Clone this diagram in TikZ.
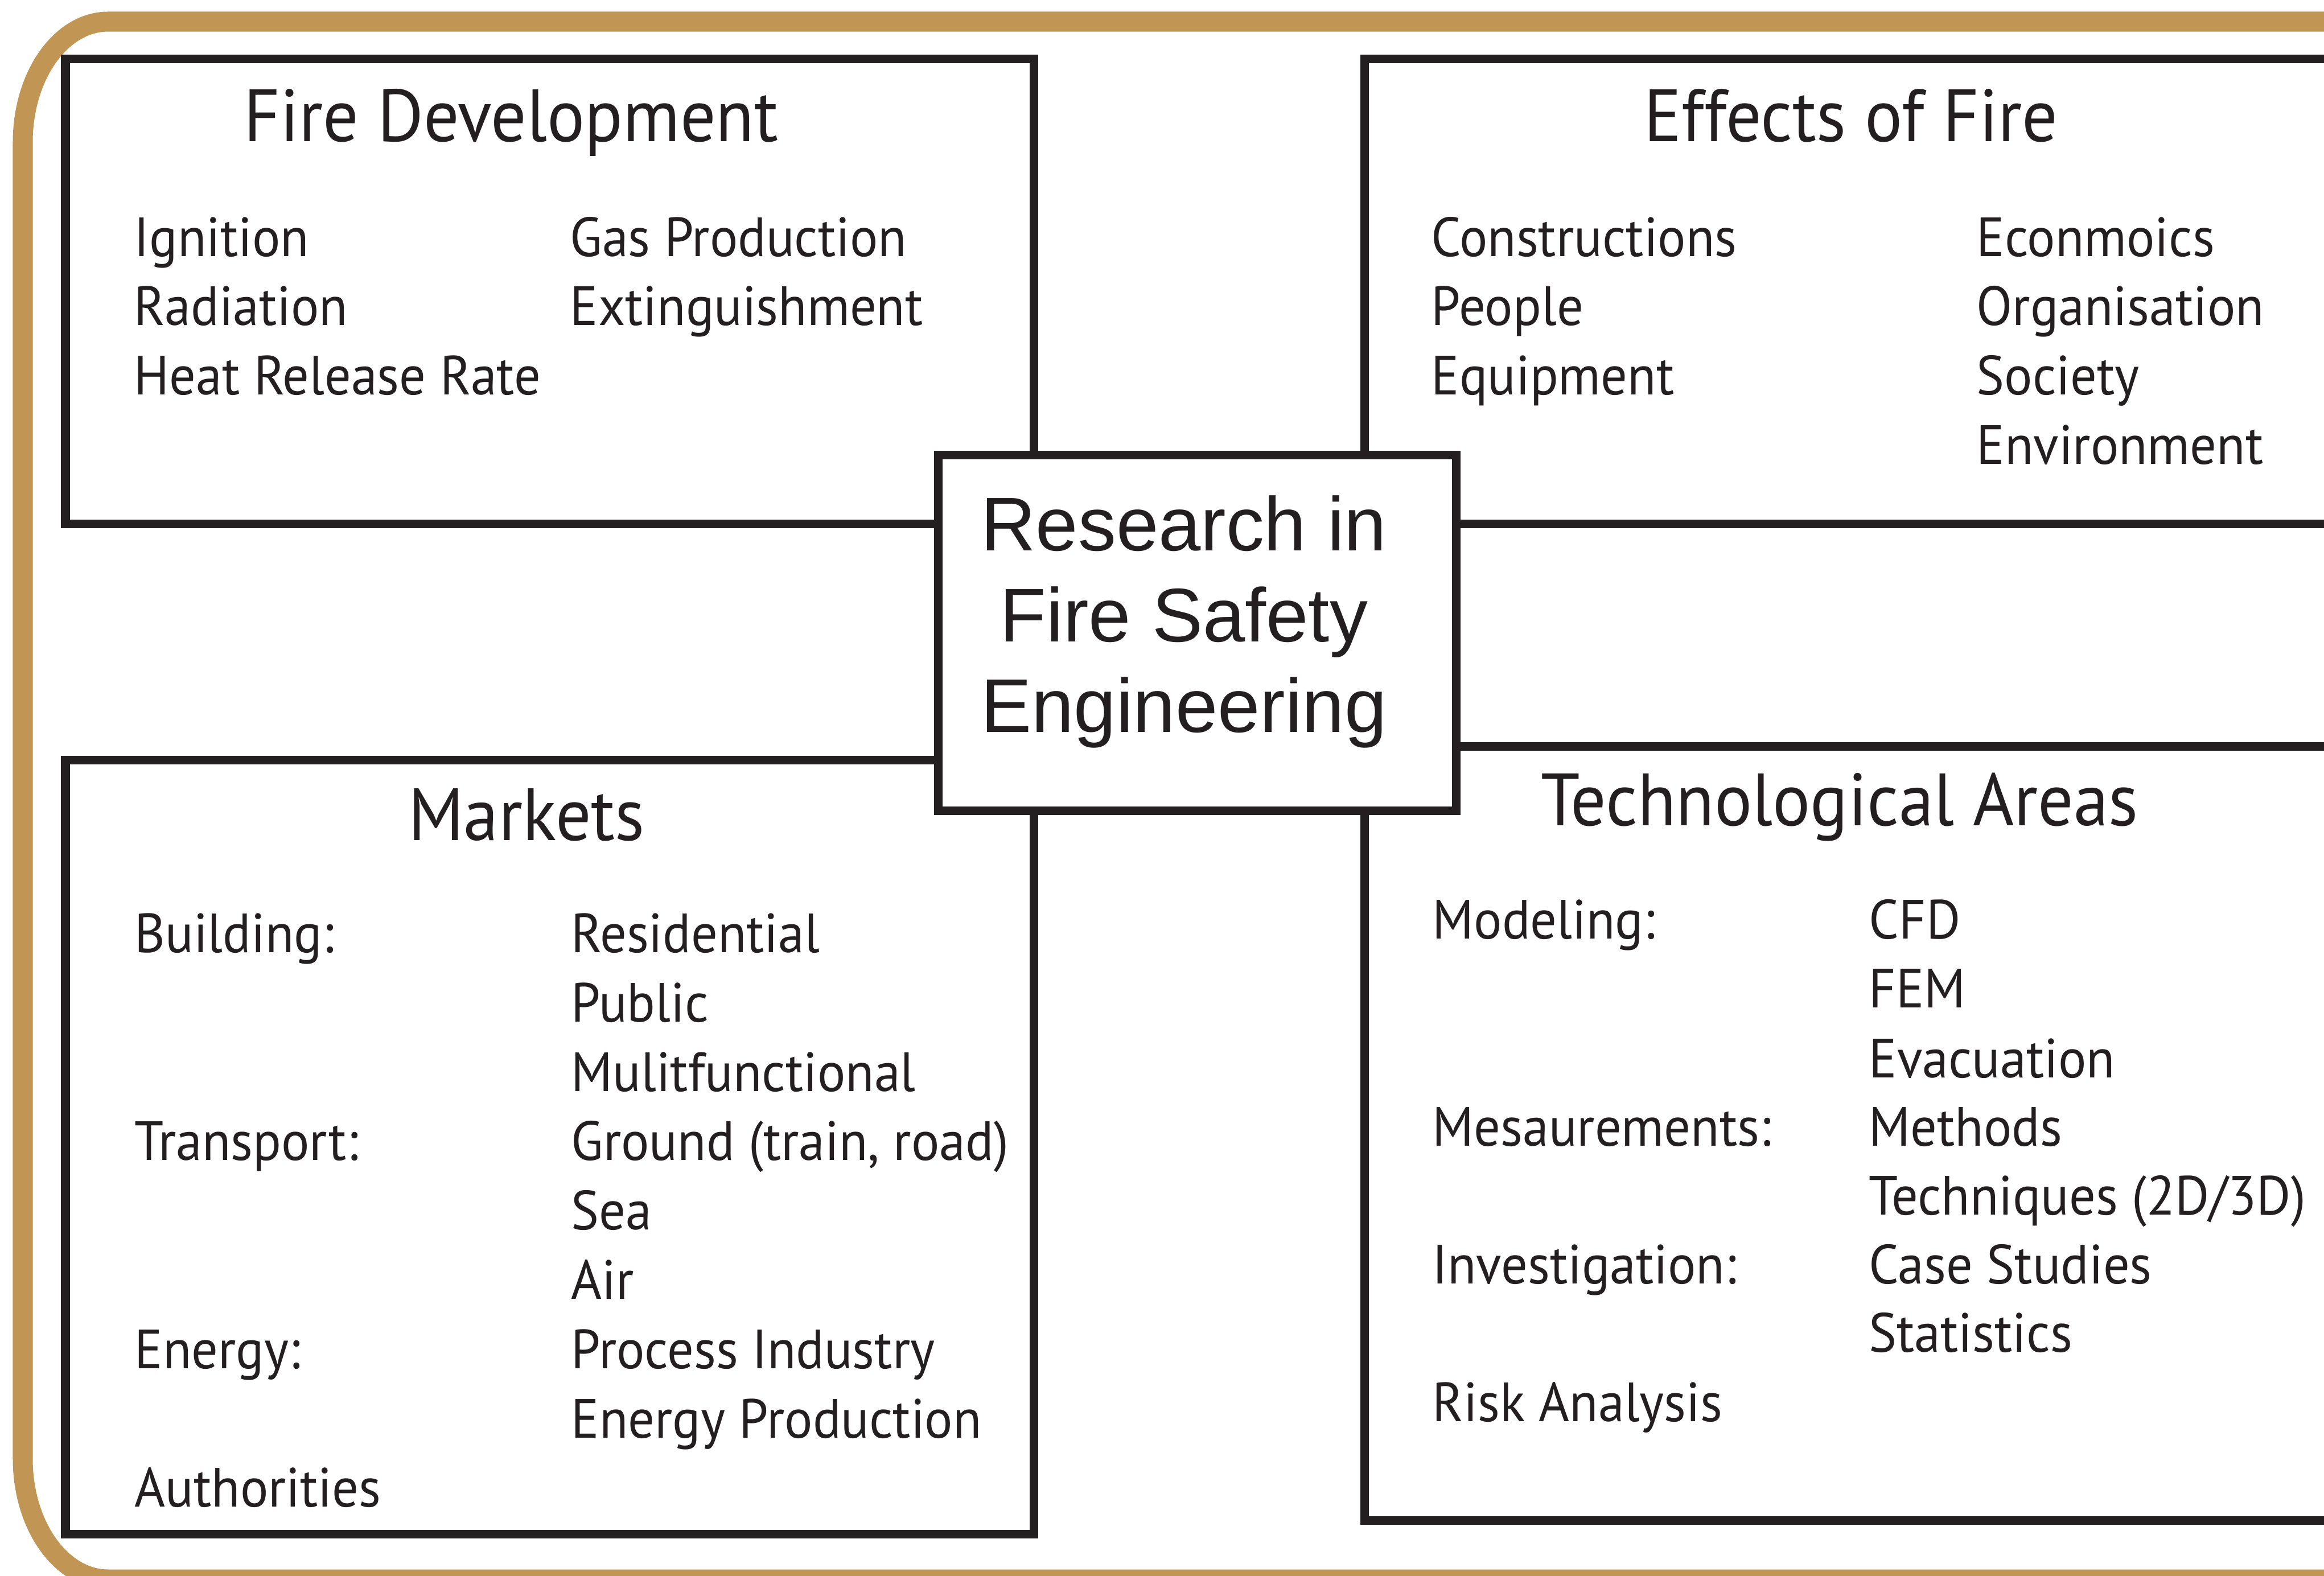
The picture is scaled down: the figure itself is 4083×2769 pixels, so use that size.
\documentclass[tikz,border=0pt]{standalone}
\usepackage{fontspec}
\setmainfont{PT Sans}[FakeStretch=0.95]
\newfontfamily\arialfont{Liberation Sans}
\definecolor{ink}{RGB}{35,31,32}
\definecolor{gold}{RGB}{193,150,84}
\newcommand{\entryfont}{\fontsize{27.6}{33}\selectfont}
\newcommand{\headfont}{\fontsize{37}{44}\selectfont}
\newcommand{\hubfont}{\arialfont\fontsize{38}{45}\selectfont}

\begin{document}
\begin{tikzpicture}[x=0.01cm, y=-0.01cm,
    panel/.style={draw=ink, line width=0.15cm},
    hubbox/.style={draw=ink, line width=0.15cm, fill=white, inner sep=0pt,
                   minimum width=9.09cm, minimum height=6.24cm},
    head/.style={anchor=base, inner sep=0pt, text=ink, font=\headfont},
    entry/.style={anchor=base west, inner sep=0pt, text=ink, font=\entryfont},
    hubline/.style={anchor=base, inner sep=0pt, text=ink, font=\hubfont}]

    \useasboundingbox (0,0) rectangle (4083,2769);
    \clip (0,0) rectangle (4083,2769);

    % golden frame, open on the right
    \draw[gold, line width=0.35cm] (4300,38) -- (190,38)
        arc[start angle=270, end angle=180, x radius=150, y radius=212]
        -- (40,2563)
        arc[start angle=180, end angle=90, x radius=150, y radius=212]
        -- (4300,2775);

    % the four panels
    \draw[panel] (115,103) rectangle (1816,920);
    \draw[panel] (2397,103) rectangle (4300,920);
    \draw[panel] (115,1335) rectangle (1816,2695);
    \draw[panel] (2397,1311) rectangle (4300,2671);

    % centre box
    \node[hubbox] (hub) at (2103.5,1112) {};
    \node[hubline] (hubA) at (2080,967) {Research in};
    \node[hubline] (hubB) at (2080,1127) {Fire Safety};
    \node[hubline] (hubC) at (2080,1286) {Engineering};

    % Fire Development
    \node[head] (fdhead) at (898,248) {Fire Development};
    \node[entry] (ign) at (235,450) {Ignition};
    \node[entry] (rad) at (235,571) {Radiation};
    \node[entry] (hrr) at (235,693) {Heat Release Rate};
    \node[entry] (gas) at (1001,450) {Gas Production};
    \node[entry] (ext) at (1001,571) {Extinguishment};

    % Effects of Fire
    \node[head] (efhead) at (3252,248) {Effects of Fire};
    \node[entry] (cons) at (2514,450) {Constructions};
    \node[entry] (peop) at (2514,571) {People};
    \node[entry] (equi) at (2514,693) {Equipment};
    \node[entry] (econ) at (3472,450) {Econmoics};
    \node[entry] (orga) at (3472,571) {Organisation};
    \node[entry] (soci) at (3472,693) {Society};
    \node[entry] (envi) at (3472,815) {Environment};

    % Markets
    \node[head] (mkhead) at (925,1476) {Markets};
    \node[entry] (bld) at (236,1673) {Building:};
    \node[entry] (trn) at (236,2038) {Transport:};
    \node[entry] (eng) at (236,2404) {Energy:};
    \node[entry] (aut) at (236,2647) {Authorities};
    \node[entry] (resi) at (1003,1673) {Residential};
    \node[entry] (publ) at (1003,1795) {Public};
    \node[entry] (mult) at (1003,1917) {Mulitfunctional};
    \node[entry] (grnd) at (1003,2038) {Ground (train, road)};
    \node[entry] (sea) at (1003,2160) {Sea};
    \node[entry] (air) at (1003,2282) {Air};
    \node[entry] (proc) at (1003,2404) {Process Industry};
    \node[entry] (prod) at (1003,2526) {Energy Production};

    % Technological Areas
    \node[head] (tahead) at (3232,1450) {Technological Areas};
    \node[entry] (mod) at (2516,1649) {Modeling:};
    \node[entry] (mes) at (2516,2013) {Mesaurements:};
    \node[entry] (inv) at (2516,2255) {Investigation:};
    \node[entry] (risk) at (2516,2497) {Risk Analysis};
    \node[entry] (cfd) at (3283,1649) {CFD};
    \node[entry] (fem) at (3283,1770) {FEM};
    \node[entry] (evac) at (3283,1893) {Evacuation};
    \node[entry] (meth) at (3283,2013) {Methods};
    \node[entry] (tech) at (3283,2134) {Techniques (2D/3D)};
    \node[entry] (case) at (3283,2255) {Case Studies};
    \node[entry] (stat) at (3283,2375) {Statistics};
\end{tikzpicture}
\end{document}
